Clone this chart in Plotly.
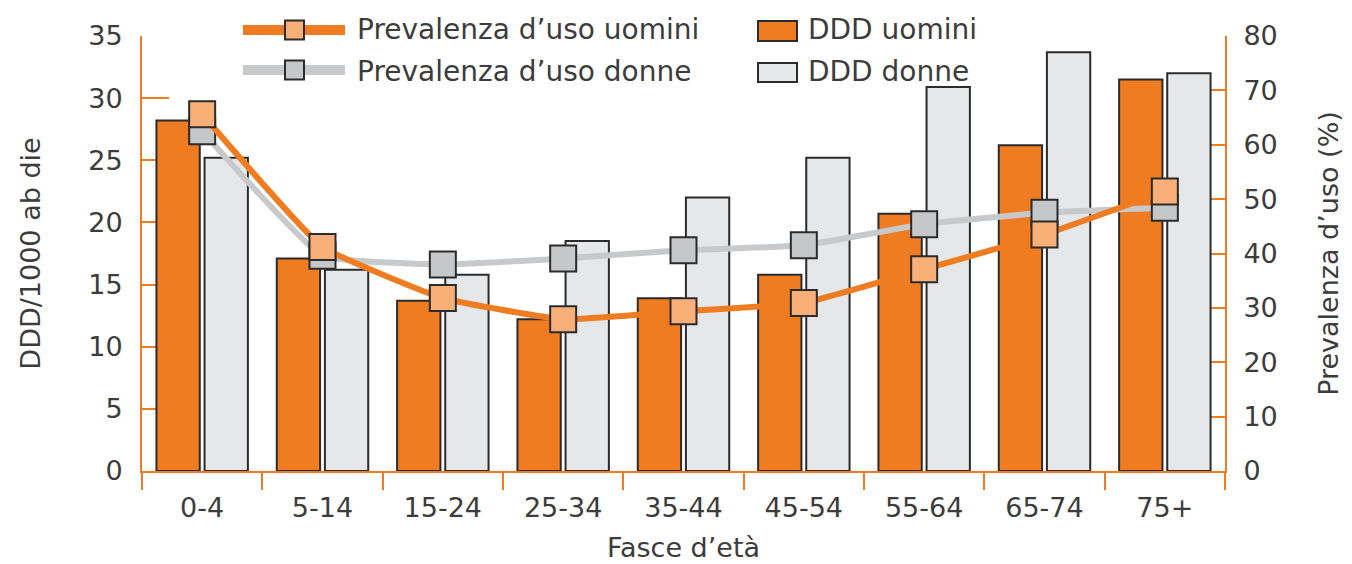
import plotly.graph_objects as go

# Age bands and series
fasce = ["0-4", "5-14", "15-24", "25-34", "35-44", "45-54", "55-64", "65-74", "75+"]
ddd_uomini = [28.2, 17.1, 13.7, 12.2, 13.9, 15.8, 20.7, 26.2, 31.5]
ddd_donne = [25.2, 16.2, 15.8, 18.5, 22.0, 25.2, 30.9, 33.7, 32.0]
prev_uomini = [65.6, 41.2, 31.8, 27.9, 29.4, 30.9, 37.1, 43.5, 51.4]
prev_donne = [62.5, 39.6, 38.0, 39.1, 40.6, 41.5, 45.4, 47.5, 48.4]

left_ticks = [0, 5, 10, 15, 20, 25, 30, 35]
right_ticks = [0, 10, 20, 30, 40, 50, 60, 70, 80]

ORANGE = "#F07C21"
ORANGE_LIGHT = "#F9AF78"
GREY_LINE = "#C8C9CB"
GREY_MARK = "#C6C7C9"
GREY_BAR = "#E6E7E9"
EDGE = "#2B2B2B"
TEXT = "#3C3C3C"
FONT = "DejaVu Sans, Verdana, sans-serif"

W, H = 1352, 564
L, R, T, B = 142, 127, 36, 93
PW, PH = W - L - R, H - T - B


def px(x):
    return (x - L) / PW


def py(y):
    return (H - B - y) / PH


fig = go.Figure()

fig.add_trace(go.Bar(
    x=fasce, y=ddd_uomini, name="DDD uomini",
    marker=dict(color=ORANGE, line=dict(color=EDGE, width=2)),
    showlegend=False,
))
fig.add_trace(go.Bar(
    x=fasce, y=ddd_donne, name="DDD donne",
    marker=dict(color=GREY_BAR, line=dict(color=EDGE, width=2)),
    showlegend=False,
))
fig.add_trace(go.Scatter(
    x=fasce, y=prev_donne, yaxis="y2", name="Prevalenza d’uso donne",
    mode="lines+markers",
    line=dict(color=GREY_LINE, width=6, shape="spline", smoothing=0.35),
    marker=dict(symbol="square", size=26, color=GREY_MARK,
                line=dict(color=EDGE, width=2)),
    showlegend=False,
))
fig.add_trace(go.Scatter(
    x=fasce, y=prev_uomini, yaxis="y2", name="Prevalenza d’uso uomini",
    mode="lines+markers",
    line=dict(color=ORANGE, width=6, shape="spline", smoothing=0.35),
    marker=dict(symbol="square", size=26, color=ORANGE_LIGHT,
                line=dict(color=EDGE, width=2)),
    showlegend=False,
))

# Hand-built legend: two columns, line+marker samples and bar swatches
shapes = []
annotations = []
for row_y, lc, mc in [(30, ORANGE, ORANGE_LIGHT), (70, GREY_LINE, GREY_MARK)]:
    shapes.append(dict(type="line", xref="paper", yref="paper",
                       x0=px(243), x1=px(345), y0=py(row_y), y1=py(row_y),
                       line=dict(color=lc, width=10), layer="above"))
    shapes.append(dict(type="rect", xref="paper", yref="paper",
                       x0=px(285), x1=px(304), y0=py(row_y - 9.5), y1=py(row_y + 9.5),
                       fillcolor=mc, line=dict(color=EDGE, width=2), layer="above"))
for (y0, y1), fc in [((21, 41), ORANGE), ((63, 82), GREY_BAR)]:
    shapes.append(dict(type="rect", xref="paper", yref="paper",
                       x0=px(758), x1=px(797), y0=py(y1), y1=py(y0),
                       fillcolor=fc, line=dict(color=EDGE, width=2), layer="above"))
for txt, x, y in [("Prevalenza d’uso uomini", 355, 30), ("Prevalenza d’uso donne", 355, 71),
                  ("DDD uomini", 806, 30), ("DDD donne", 806, 71)]:
    annotations.append(dict(text=txt, xref="paper", yref="paper", x=px(x), y=py(y),
                            xanchor="left", yanchor="middle", showarrow=False,
                            font=dict(family=FONT, size=28, color=TEXT)))

axis_font = dict(family=FONT, size=27, color=TEXT)

fig.update_layout(
    width=W, height=H,
    margin=dict(l=L, r=R, t=T, b=B, pad=0, autoexpand=False),
    paper_bgcolor="white", plot_bgcolor="white",
    barmode="group", bargap=0.2, bargroupgap=0.1,
    showlegend=False,
    font=dict(family=FONT, color=TEXT),
    xaxis=dict(
        type="category", range=[-0.5, len(fasce) - 0.5], automargin=False,
        showgrid=False, zeroline=False,
        showline=True, linecolor=ORANGE, linewidth=2,
        ticks="outside", tickson="boundaries", ticklen=17, tickcolor=ORANGE, tickwidth=2,
        tickfont=axis_font, ticklabelstandoff=12,
        title=dict(text="Fasce d’età", font=axis_font, standoff=16),
    ),
    yaxis=dict(
        range=[0, 35], tickvals=left_ticks, automargin=False,
        showgrid=False, zeroline=False,
        showline=True, linecolor=ORANGE, linewidth=2,
        ticks="inside", ticklen=27, tickcolor=ORANGE, tickwidth=2,
        tickfont=axis_font, ticklabelstandoff=12, layer="below traces",
        title=dict(text="DDD/1000 ab die", font=axis_font, standoff=40),
    ),
    yaxis2=dict(
        range=[0, 80], tickvals=right_ticks, overlaying="y", side="right",
        automargin=False, showgrid=False, zeroline=False,
        showline=True, linecolor=ORANGE, linewidth=2,
        ticks="inside", ticklen=27, tickcolor=ORANGE, tickwidth=2,
        tickfont=axis_font, ticklabelstandoff=11, layer="below traces",
        title=dict(text="Prevalenza d’uso (%)", font=axis_font, standoff=42),
    ),
    shapes=shapes,
    annotations=annotations,
)

fig.write_html("out.html")
